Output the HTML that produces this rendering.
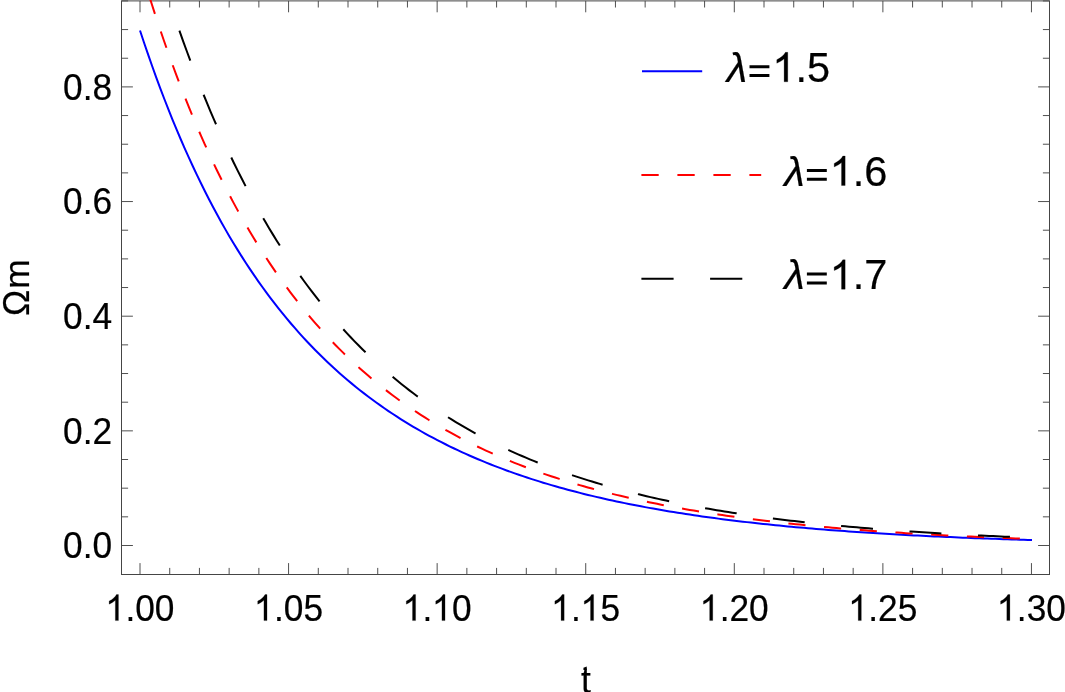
<!DOCTYPE html>
<html><head><meta charset="utf-8"><title>plot</title>
<style>
html,body{margin:0;padding:0;background:#fff;}
body{width:1065px;height:692px;overflow:hidden;}
svg{display:block;will-change:transform;}
text{font-family:"Liberation Sans",sans-serif;fill:#000;stroke:#000;stroke-width:0.2px;}
</style></head><body>
<svg width="1065" height="692" viewBox="0 0 1065 692">
<rect x="0" y="0" width="1065" height="692" fill="#fff"/>
<path d="M140.00,574.5v-11.4M140.00,0.9v11.4M169.72,574.5v-6.6M169.72,0.9v6.6M199.43,574.5v-6.6M199.43,0.9v6.6M229.14,574.5v-6.6M229.14,0.9v6.6M258.86,574.5v-6.6M258.86,0.9v6.6M288.57,574.5v-11.4M288.57,0.9v11.4M318.29,574.5v-6.6M318.29,0.9v6.6M348.00,574.5v-6.6M348.00,0.9v6.6M377.72,574.5v-6.6M377.72,0.9v6.6M407.44,574.5v-6.6M407.44,0.9v6.6M437.15,574.5v-11.4M437.15,0.9v11.4M466.87,574.5v-6.6M466.87,0.9v6.6M496.58,574.5v-6.6M496.58,0.9v6.6M526.30,574.5v-6.6M526.30,0.9v6.6M556.01,574.5v-6.6M556.01,0.9v6.6M585.73,574.5v-11.4M585.73,0.9v11.4M615.44,574.5v-6.6M615.44,0.9v6.6M645.15,574.5v-6.6M645.15,0.9v6.6M674.87,574.5v-6.6M674.87,0.9v6.6M704.59,574.5v-6.6M704.59,0.9v6.6M734.30,574.5v-11.4M734.30,0.9v11.4M764.01,574.5v-6.6M764.01,0.9v6.6M793.73,574.5v-6.6M793.73,0.9v6.6M823.45,574.5v-6.6M823.45,0.9v6.6M853.16,574.5v-6.6M853.16,0.9v6.6M882.88,574.5v-11.4M882.88,0.9v11.4M912.59,574.5v-6.6M912.59,0.9v6.6M942.30,574.5v-6.6M942.30,0.9v6.6M972.02,574.5v-6.6M972.02,0.9v6.6M1001.74,574.5v-6.6M1001.74,0.9v6.6M1031.45,574.5v-11.4M1031.45,0.9v11.4M121.5,545.50h11.4M1049.5,545.50h-11.4M121.5,516.84h6.6M1049.5,516.84h-6.6M121.5,488.18h6.6M1049.5,488.18h-6.6M121.5,459.51h6.6M1049.5,459.51h-6.6M121.5,430.85h11.4M1049.5,430.85h-11.4M121.5,402.19h6.6M1049.5,402.19h-6.6M121.5,373.52h6.6M1049.5,373.52h-6.6M121.5,344.86h6.6M1049.5,344.86h-6.6M121.5,316.20h11.4M1049.5,316.20h-11.4M121.5,287.54h6.6M1049.5,287.54h-6.6M121.5,258.88h6.6M1049.5,258.88h-6.6M121.5,230.21h6.6M1049.5,230.21h-6.6M121.5,201.55h11.4M1049.5,201.55h-11.4M121.5,172.89h6.6M1049.5,172.89h-6.6M121.5,144.22h6.6M1049.5,144.22h-6.6M121.5,115.56h6.6M1049.5,115.56h-6.6M121.5,86.90h11.4M1049.5,86.90h-11.4M121.5,58.24h6.6M1049.5,58.24h-6.6M121.5,29.57h6.6M1049.5,29.57h-6.6M121.5,0.91h6.6M1049.5,0.91h-6.6" stroke="#505050" stroke-width="1" fill="none"/>
<rect x="121.5" y="0.9" width="928.0" height="573.6" fill="none" stroke="#454545" stroke-width="1"/>
<clipPath id="c"><rect x="121.5" y="0" width="928.0" height="574.5"/></clipPath>
<g clip-path="url(#c)" fill="none" stroke-width="2" stroke-linejoin="round">
<path d="M140.00,30.45 L144.07,42.73 L148.15,54.67 L152.22,66.28 L156.29,77.58 L160.37,88.57 L164.44,99.26 L168.51,109.66 L172.58,119.79 L176.66,129.65 L180.73,139.24 L184.80,148.58 L188.88,157.68 L192.95,166.54 L197.02,175.16 L201.10,183.56 L205.17,191.75 L209.24,199.72 L213.32,207.49 L217.39,215.06 L221.46,222.44 L225.53,229.63 L229.61,236.64 L233.68,243.48 L237.75,250.14 L241.83,256.64 L245.90,262.97 L249.97,269.15 L254.05,275.18 L258.12,281.06 L262.19,286.79 L266.26,292.39 L270.34,297.85 L274.41,303.17 L278.48,308.37 L282.56,313.45 L286.63,318.40 L290.70,323.24 L294.78,327.96 L298.85,332.57 L302.92,337.07 L307.00,341.47 L311.07,345.76 L315.14,349.96 L319.21,354.05 L323.29,358.06 L327.36,361.97 L331.43,365.79 L335.51,369.52 L339.58,373.17 L343.65,376.73 L347.73,380.21 L351.80,383.62 L355.87,386.95 L359.95,390.20 L364.02,393.39 L368.09,396.50 L372.16,399.54 L376.24,402.51 L380.31,405.42 L384.38,408.27 L388.46,411.05 L392.53,413.77 L396.60,416.44 L400.68,419.04 L404.75,421.59 L408.82,424.08 L412.89,426.52 L416.97,428.91 L421.04,431.25 L425.11,433.54 L429.19,435.77 L433.26,437.97 L437.33,440.11 L441.41,442.21 L445.48,444.26 L449.55,446.28 L453.63,448.25 L457.70,450.17 L461.77,452.06 L465.84,453.91 L469.92,455.72 L473.99,457.50 L478.06,459.23 L482.14,460.93 L486.21,462.60 L490.28,464.23 L494.36,465.83 L498.43,467.40 L502.50,468.93 L506.58,470.44 L510.65,471.91 L514.72,473.35 L518.79,474.77 L522.87,476.15 L526.94,477.51 L531.01,478.84 L535.09,480.14 L539.16,481.42 L543.23,482.67 L547.31,483.90 L551.38,485.10 L555.45,486.28 L559.53,487.44 L563.60,488.57 L567.67,489.68 L571.74,490.77 L575.82,491.84 L579.89,492.89 L583.96,493.91 L588.04,494.92 L592.11,495.90 L596.18,496.87 L600.26,497.82 L604.33,498.75 L608.40,499.66 L612.47,500.55 L616.55,501.43 L620.62,502.29 L624.69,503.13 L628.77,503.96 L632.84,504.77 L636.91,505.56 L640.99,506.34 L645.06,507.11 L649.13,507.86 L653.21,508.59 L657.28,509.31 L661.35,510.02 L665.42,510.72 L669.50,511.40 L673.57,512.06 L677.64,512.72 L681.72,513.36 L685.79,513.99 L689.86,514.61 L693.94,515.22 L698.01,515.81 L702.08,516.39 L706.16,516.97 L710.23,517.53 L714.30,518.08 L718.37,518.62 L722.45,519.15 L726.52,519.67 L730.59,520.18 L734.67,520.68 L738.74,521.17 L742.81,521.65 L746.89,522.12 L750.96,522.58 L755.03,523.04 L759.11,523.48 L763.18,523.92 L767.25,524.35 L771.32,524.77 L775.40,525.18 L779.47,525.59 L783.54,525.99 L787.62,526.38 L791.69,526.76 L795.76,527.13 L799.84,527.50 L803.91,527.86 L807.98,528.22 L812.05,528.56 L816.13,528.90 L820.20,529.24 L824.27,529.57 L828.35,529.89 L832.42,530.20 L836.49,530.51 L840.57,530.82 L844.64,531.11 L848.71,531.40 L852.79,531.69 L856.86,531.97 L860.93,532.25 L865.00,532.52 L869.08,532.78 L873.15,533.04 L877.22,533.30 L881.30,533.55 L885.37,533.79 L889.44,534.03 L893.52,534.27 L897.59,534.50 L901.66,534.73 L905.74,534.95 L909.81,535.17 L913.88,535.38 L917.95,535.59 L922.03,535.79 L926.10,536.00 L930.17,536.19 L934.25,536.39 L938.32,536.58 L942.39,536.76 L946.47,536.95 L950.54,537.12 L954.61,537.30 L958.68,537.47 L962.76,537.64 L966.83,537.81 L970.90,537.97 L974.98,538.13 L979.05,538.28 L983.12,538.43 L987.20,538.58 L991.27,538.73 L995.34,538.87 L999.42,539.02 L1003.49,539.15 L1007.56,539.29 L1011.63,539.42 L1015.71,539.55 L1019.78,539.68 L1023.85,539.80 L1027.93,539.92 L1032.00,540.04" stroke="#0000ff"/>
<path d="M139.60,-35.54 L143.67,-21.91 L147.75,-8.65 L151.82,4.26 L155.90,16.82 L159.97,29.06 L164.05,40.96 L168.12,52.56 L172.20,63.85 L176.27,74.85 L180.35,85.57 L184.42,96.00 L188.50,106.17 L192.57,116.08 L196.65,125.73 L200.72,135.14 L204.80,144.31 L208.87,153.24 L212.95,161.96 L217.02,170.45 L221.10,178.73 L225.17,186.81 L229.25,194.69 L233.32,202.37 L237.40,209.86 L241.47,217.17 L245.55,224.30 L249.62,231.26 L253.70,238.05 L257.77,244.68 L261.85,251.14 L265.92,257.45 L270.00,263.61 L274.07,269.63 L278.15,275.50 L282.22,281.23 L286.30,286.83 L290.37,292.30 L294.45,297.64 L298.52,302.85 L302.60,307.95 L306.67,312.92 L310.75,317.78 L314.82,322.53 L318.89,327.17 L322.97,331.71 L327.04,336.14 L331.12,340.47 L335.19,344.70 L339.27,348.84 L343.34,352.88 L347.42,356.84 L351.49,360.70 L355.57,364.48 L359.64,368.18 L363.72,371.79 L367.79,375.33 L371.87,378.78 L375.94,382.16 L380.02,385.47 L384.09,388.70 L388.17,391.87 L392.24,394.96 L396.32,397.99 L400.39,400.96 L404.47,403.86 L408.54,406.69 L412.62,409.47 L416.69,412.19 L420.77,414.85 L424.84,417.45 L428.92,420.00 L432.99,422.50 L437.07,424.94 L441.14,427.33 L445.22,429.67 L449.29,431.96 L453.37,434.21 L457.44,436.40 L461.52,438.56 L465.59,440.66 L469.67,442.73 L473.74,444.75 L477.82,446.73 L481.89,448.67 L485.97,450.57 L490.04,452.43 L494.12,454.25 L498.19,456.04 L502.26,457.79 L506.34,459.50 L510.41,461.18 L514.49,462.82 L518.56,464.44 L522.64,466.02 L526.71,467.57 L530.79,469.08 L534.86,470.57 L538.94,472.03 L543.01,473.46 L547.09,474.86 L551.16,476.23 L555.24,477.57 L559.31,478.89 L563.39,480.18 L567.46,481.45 L571.54,482.69 L575.61,483.91 L579.69,485.10 L583.76,486.27 L587.84,487.42 L591.91,488.55 L595.99,489.65 L600.06,490.73 L604.14,491.79 L608.21,492.83 L612.29,493.85 L616.36,494.85 L620.44,495.83 L624.51,496.79 L628.59,497.73 L632.66,498.66 L636.74,499.57 L640.81,500.46 L644.89,501.33 L648.96,502.18 L653.04,503.02 L657.11,503.85 L661.19,504.65 L665.26,505.44 L669.34,506.22 L673.41,506.98 L677.48,507.73 L681.56,508.46 L685.63,509.18 L689.71,509.89 L693.78,510.58 L697.86,511.26 L701.93,511.92 L706.01,512.58 L710.08,513.22 L714.16,513.84 L718.23,514.46 L722.31,515.07 L726.38,515.66 L730.46,516.24 L734.53,516.81 L738.61,517.37 L742.68,517.92 L746.76,518.46 L750.83,518.99 L754.91,519.51 L758.98,520.02 L763.06,520.52 L767.13,521.01 L771.21,521.49 L775.28,521.96 L779.36,522.42 L783.43,522.87 L787.51,523.32 L791.58,523.76 L795.66,524.18 L799.73,524.60 L803.81,525.02 L807.88,525.42 L811.96,525.82 L816.03,526.21 L820.11,526.59 L824.18,526.96 L828.26,527.33 L832.33,527.69 L836.41,528.05 L840.48,528.39 L844.56,528.73 L848.63,529.07 L852.71,529.39 L856.78,529.72 L860.85,530.03 L864.93,530.34 L869.00,530.64 L873.08,530.94 L877.15,531.23 L881.23,531.52 L885.30,531.80 L889.38,532.08 L893.45,532.35 L897.53,532.61 L901.60,532.87 L905.68,533.13 L909.75,533.38 L913.83,533.62 L917.90,533.86 L921.98,534.10 L926.05,534.33 L930.13,534.56 L934.20,534.78 L938.28,535.00 L942.35,535.21 L946.43,535.42 L950.50,535.63 L954.58,535.83 L958.65,536.03 L962.73,536.22 L966.80,536.41 L970.88,536.60 L974.95,536.78 L979.03,536.96 L983.10,537.14 L987.18,537.31 L991.25,537.48 L995.33,537.64 L999.40,537.81 L1003.48,537.97 L1007.55,538.12 L1011.63,538.28 L1015.70,538.43 L1019.78,538.57 L1023.85,538.72 L1027.93,538.86 L1032.00,539.00" stroke="#ff0000" stroke-dasharray="17.2 18.6" stroke-dashoffset="1.3"/>
<path d="M179.40,30.57 L183.29,41.55 L187.19,52.28 L191.08,62.75 L194.97,72.97 L198.87,82.95 L202.76,92.70 L206.65,102.22 L210.55,111.52 L214.44,120.60 L218.33,129.47 L222.22,138.14 L226.12,146.60 L230.01,154.87 L233.90,162.96 L237.80,170.85 L241.69,178.57 L245.58,186.11 L249.48,193.49 L253.37,200.69 L257.26,207.74 L261.16,214.62 L265.05,221.35 L268.94,227.93 L272.84,234.37 L276.73,240.66 L280.62,246.81 L284.52,252.83 L288.41,258.71 L292.30,264.47 L296.19,270.09 L300.09,275.60 L303.98,280.99 L307.87,286.26 L311.77,291.41 L315.66,296.45 L319.55,301.39 L323.45,306.22 L327.34,310.94 L331.23,315.57 L335.13,320.09 L339.02,324.52 L342.91,328.86 L346.81,333.10 L350.70,337.25 L354.59,341.32 L358.48,345.30 L362.38,349.20 L366.27,353.01 L370.16,356.75 L374.06,360.41 L377.95,363.99 L381.84,367.50 L385.74,370.93 L389.63,374.30 L393.52,377.59 L397.42,380.82 L401.31,383.98 L405.20,387.08 L409.10,390.11 L412.99,393.08 L416.88,396.00 L420.78,398.85 L424.67,401.64 L428.56,404.38 L432.45,407.06 L436.35,409.69 L440.24,412.27 L444.13,414.79 L448.03,417.27 L451.92,419.69 L455.81,422.07 L459.71,424.40 L463.60,426.68 L467.49,428.92 L471.39,431.11 L475.28,433.26 L479.17,435.37 L483.07,437.44 L486.96,439.46 L490.85,441.45 L494.75,443.40 L498.64,445.31 L502.53,447.18 L506.42,449.02 L510.32,450.82 L514.21,452.58 L518.10,454.31 L522.00,456.01 L525.89,457.67 L529.78,459.31 L533.68,460.91 L537.57,462.48 L541.46,464.02 L545.36,465.53 L549.25,467.01 L553.14,468.46 L557.04,469.89 L560.93,471.29 L564.82,472.66 L568.72,474.01 L572.61,475.33 L576.50,476.62 L580.39,477.89 L584.29,479.14 L588.18,480.37 L592.07,481.57 L595.97,482.74 L599.86,483.90 L603.75,485.03 L607.65,486.15 L611.54,487.24 L615.43,488.31 L619.33,489.36 L623.22,490.39 L627.11,491.40 L631.01,492.40 L634.90,493.37 L638.79,494.33 L642.68,495.27 L646.58,496.19 L650.47,497.10 L654.36,497.98 L658.26,498.86 L662.15,499.71 L666.04,500.55 L669.94,501.37 L673.83,502.18 L677.72,502.98 L681.62,503.76 L685.51,504.52 L689.40,505.27 L693.30,506.01 L697.19,506.73 L701.08,507.44 L704.98,508.14 L708.87,508.83 L712.76,509.50 L716.65,510.16 L720.55,510.80 L724.44,511.44 L728.33,512.06 L732.23,512.68 L736.12,513.28 L740.01,513.87 L743.91,514.45 L747.80,515.02 L751.69,515.58 L755.59,516.13 L759.48,516.67 L763.37,517.19 L767.27,517.71 L771.16,518.22 L775.05,518.72 L778.95,519.22 L782.84,519.70 L786.73,520.17 L790.62,520.64 L794.52,521.09 L798.41,521.54 L802.30,521.98 L806.20,522.42 L810.09,522.84 L813.98,523.26 L817.88,523.67 L821.77,524.07 L825.66,524.46 L829.56,524.85 L833.45,525.23 L837.34,525.61 L841.24,525.97 L845.13,526.33 L849.02,526.69 L852.92,527.03 L856.81,527.37 L860.70,527.71 L864.59,528.04 L868.49,528.36 L872.38,528.68 L876.27,528.99 L880.17,529.29 L884.06,529.60 L887.95,529.89 L891.85,530.18 L895.74,530.46 L899.63,530.74 L903.53,531.02 L907.42,531.28 L911.31,531.55 L915.21,531.81 L919.10,532.06 L922.99,532.31 L926.88,532.56 L930.78,532.80 L934.67,533.04 L938.56,533.27 L942.46,533.50 L946.35,533.72 L950.24,533.94 L954.14,534.16 L958.03,534.37 L961.92,534.58 L965.82,534.78 L969.71,534.98 L973.60,535.18 L977.50,535.37 L981.39,535.56 L985.28,535.75 L989.18,535.93 L993.07,536.11 L996.96,536.29 L1000.85,536.46 L1004.75,536.63 L1008.64,536.80 L1012.53,536.96 L1016.43,537.12 L1020.32,537.28 L1024.21,537.43 L1028.11,537.59 L1032.00,537.74" stroke="#000000" stroke-dasharray="32 36.6"/>
</g>
<g fill="none" stroke-width="2">
<path d="M642.0,71.3H702.2" stroke="#0000ff"/>
<path d="M641.4,175.0H761.2" stroke="#ff0000" stroke-dasharray="17.3 18.7"/>
<path d="M641.4,278.7H761.2" stroke="#000000" stroke-dasharray="32.2 36.5"/>
</g>
<text x="726.8" y="81.8" font-size="41.6" font-style="italic">λ</text><text transform="translate(772.27,81.80) scale(1,1.02)" font-size="41.6"><tspan visibility="hidden">1</tspan>.5</text><path transform="translate(772.27,81.80) scale(0.02031,-0.02001)" d="M763 0h-180v1147q-65 -62 -170.5 -124t-189.5 -93v174q151 71 264 172t160 196h116v-1472z" fill="#000" stroke="#000" stroke-width="12"/><path d="M749.5,66.7h19.9M749.5,75.5h19.9" stroke="#000" stroke-width="3" fill="none"/>
<text x="784.2" y="185.5" font-size="41.6" font-style="italic">λ</text><text transform="translate(829.67,185.50) scale(1,1.02)" font-size="41.6"><tspan visibility="hidden">1</tspan>.6</text><path transform="translate(829.67,185.50) scale(0.02031,-0.02001)" d="M763 0h-180v1147q-65 -62 -170.5 -124t-189.5 -93v174q151 71 264 172t160 196h116v-1472z" fill="#000" stroke="#000" stroke-width="12"/><path d="M806.9,170.4h19.9M806.9,179.2h19.9" stroke="#000" stroke-width="3" fill="none"/>
<text x="784.2" y="289.2" font-size="41.6" font-style="italic">λ</text><text transform="translate(829.67,289.20) scale(1,1.02)" font-size="41.6"><tspan visibility="hidden">1</tspan>.7</text><path transform="translate(829.67,289.20) scale(0.02031,-0.02001)" d="M763 0h-180v1147q-65 -62 -170.5 -124t-189.5 -93v174q151 71 264 172t160 196h116v-1472z" fill="#000" stroke="#000" stroke-width="12"/><path d="M806.9,274.1h19.9M806.9,282.9h19.9" stroke="#000" stroke-width="3" fill="none"/>
<text transform="translate(63.03,558.30) scale(1,1.07)" font-size="35.3">0.0</text>
<text transform="translate(63.03,443.65) scale(1,1.07)" font-size="35.3">0.2</text>
<text transform="translate(63.03,329.00) scale(1,1.07)" font-size="35.3">0.4</text>
<text transform="translate(63.03,214.35) scale(1,1.07)" font-size="35.3">0.6</text>
<text transform="translate(63.03,99.70) scale(1,1.07)" font-size="35.3">0.8</text>
<text transform="translate(105.75,620.60) scale(1,1.07)" font-size="35.3"><tspan visibility="hidden">1</tspan>.00</text><path transform="translate(105.30,620.60) scale(0.01724,-0.01767)" d="M763 0h-180v1147q-65 -62 -170.5 -124t-189.5 -93v174q151 71 264 172t160 196h116v-1472z" fill="#000" stroke="#000" stroke-width="12"/>
<text transform="translate(254.32,620.60) scale(1,1.07)" font-size="35.3"><tspan visibility="hidden">1</tspan>.05</text><path transform="translate(253.87,620.60) scale(0.01724,-0.01767)" d="M763 0h-180v1147q-65 -62 -170.5 -124t-189.5 -93v174q151 71 264 172t160 196h116v-1472z" fill="#000" stroke="#000" stroke-width="12"/>
<text transform="translate(402.90,620.60) scale(1,1.07)" font-size="35.3"><tspan visibility="hidden">1</tspan>.<tspan visibility="hidden">1</tspan>0</text><path transform="translate(402.45,620.60) scale(0.01724,-0.01767)" d="M763 0h-180v1147q-65 -62 -170.5 -124t-189.5 -93v174q151 71 264 172t160 196h116v-1472z" fill="#000" stroke="#000" stroke-width="12"/><path transform="translate(431.89,620.60) scale(0.01724,-0.01767)" d="M763 0h-180v1147q-65 -62 -170.5 -124t-189.5 -93v174q151 71 264 172t160 196h116v-1472z" fill="#000" stroke="#000" stroke-width="12"/>
<text transform="translate(551.47,620.60) scale(1,1.07)" font-size="35.3"><tspan visibility="hidden">1</tspan>.<tspan visibility="hidden">1</tspan>5</text><path transform="translate(551.02,620.60) scale(0.01724,-0.01767)" d="M763 0h-180v1147q-65 -62 -170.5 -124t-189.5 -93v174q151 71 264 172t160 196h116v-1472z" fill="#000" stroke="#000" stroke-width="12"/><path transform="translate(580.46,620.60) scale(0.01724,-0.01767)" d="M763 0h-180v1147q-65 -62 -170.5 -124t-189.5 -93v174q151 71 264 172t160 196h116v-1472z" fill="#000" stroke="#000" stroke-width="12"/>
<text transform="translate(700.05,620.60) scale(1,1.07)" font-size="35.3"><tspan visibility="hidden">1</tspan>.20</text><path transform="translate(699.60,620.60) scale(0.01724,-0.01767)" d="M763 0h-180v1147q-65 -62 -170.5 -124t-189.5 -93v174q151 71 264 172t160 196h116v-1472z" fill="#000" stroke="#000" stroke-width="12"/>
<text transform="translate(848.62,620.60) scale(1,1.07)" font-size="35.3"><tspan visibility="hidden">1</tspan>.25</text><path transform="translate(848.17,620.60) scale(0.01724,-0.01767)" d="M763 0h-180v1147q-65 -62 -170.5 -124t-189.5 -93v174q151 71 264 172t160 196h116v-1472z" fill="#000" stroke="#000" stroke-width="12"/>
<text transform="translate(997.20,620.60) scale(1,1.07)" font-size="35.3"><tspan visibility="hidden">1</tspan>.30</text><path transform="translate(996.75,620.60) scale(0.01724,-0.01767)" d="M763 0h-180v1147q-65 -62 -170.5 -124t-189.5 -93v174q151 71 264 172t160 196h116v-1472z" fill="#000" stroke="#000" stroke-width="12"/>
<text transform="translate(585.8,692.5) scale(1,1.05)" font-size="35.3" text-anchor="middle">t</text>
<path d="M583.45,670V667.8L586.75,666.5V670Z" fill="#000"/>
<text transform="translate(29.2,315.9) rotate(-90) scale(1,1.04)" font-size="35.1">Ω</text>
<text transform="translate(29.2,288.8) rotate(-90) scale(1,0.97)" font-size="35.3">m</text>
</svg></body></html>
